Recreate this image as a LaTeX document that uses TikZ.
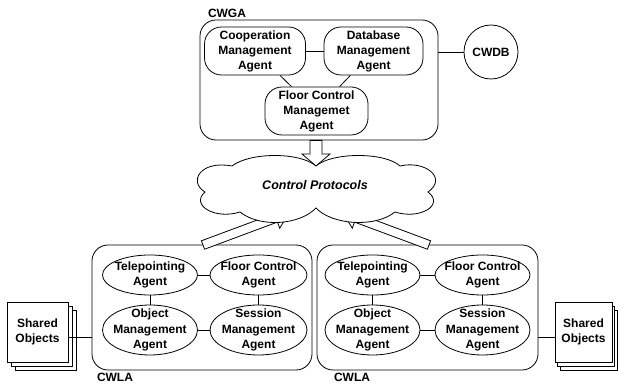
\documentclass[tikz,border=0pt]{standalone}
\usepackage{fontspec}
\setmainfont{Liberation Sans}
\usetikzlibrary{calc,shapes.geometric}
\tikzset{
 every node/.style={font=\bfseries\fontsize{12}{15}\selectfont},
 ln/.style={line width=0.8pt},
 agentbox/.style={draw, ln, rounded corners=17pt, fill=white, align=center, inner sep=0pt},
 bigbox/.style={draw, ln, rounded corners=16pt, inner sep=0pt},
 agentell/.style={draw, ln, ellipse, inner sep=0pt, fill=white},
 elltext/.style={align=center, font=\bfseries\fontsize{12}{15.5}\selectfont},
 page/.style={draw, ln, fill=white, inner sep=0pt},
 fat/.style={draw, ln, fill=white, line join=miter},
 cloudline/.style={draw, ln, fill=white},
}
\newcommand{\fatarrow}[5]{%
 \coordinate (fah) at ($(#2)!#5pt!(#1)$);
 \draw[fat] ($(#1)!#3pt!90:(#2)$) -- ($(fah)!#3pt!-90:(#1)$) -- ($(fah)!#4pt!-90:(#1)$) -- (#2) -- ($(fah)!#4pt!90:(#1)$) -- ($(fah)!#3pt!90:(#1)$) -- ($(#1)!#3pt!-90:(#2)$) -- cycle;}
\begin{document}
\begin{tikzpicture}[x=1pt,y=-1pt]
\useasboundingbox (0,0) rectangle (619,387);

% ---------- CWGA ----------
\node[bigbox, minimum width=238pt, minimum height=120pt] (cwga) at (319,80) {};
\node (cwgal) at (227,13) {CWGA};
\node[agentbox, minimum width=101pt, minimum height=48pt] (coop) at (255,51) {Cooperation\\Management\\Agent};
\node[agentbox, minimum width=99pt, minimum height=48pt] (db) at (373.5,51) {Database\\Management\\Agent};
\node[agentbox, minimum width=103pt, minimum height=48pt] (fcm) at (316.5,111) {Floor Control\\Managemet\\Agent};
\node[draw, ln, circle, minimum size=54pt, inner sep=0pt] (cwdb) at (491,52) {CWDB};
\draw[ln] (coop) -- (db);
\draw[ln] (coop) -- (fcm);
\draw[ln] (db) -- (fcm);
\draw[ln] (cwdb.west -| cwga.east) -- (cwdb.west);

% ---------- CWLA boxes ----------
\node[bigbox, minimum width=220pt, minimum height=125pt] (cwlaL) at (202,307.5) {};
\node[bigbox, minimum width=221pt, minimum height=125pt] (cwlaR) at (427.5,307.5) {};
\node (cwlaLl) at (115,377) {CWLA};
\node (cwlaRl) at (352,377) {CWLA};

\node[agentell, minimum width=95pt, minimum height=40pt, label={[elltext]center:{Telepointing\\Agent}}] (telL) at (150,275) {};
\node[agentell, minimum width=97pt, minimum height=40pt, label={[elltext]center:{Floor Control\\Agent}}] (fcL) at (258.5,275) {};
\node[agentell, minimum width=95pt, minimum height=50pt, label={[elltext]center:{Object\\Management\\Agent}}] (omL) at (150,330) {};
\node[agentell, minimum width=97pt, minimum height=50pt, label={[elltext]center:{Session\\Management\\Agent}}] (smL) at (258.5,330) {};
\draw[ln] (telL) -- (fcL);
\draw[ln] (omL) -- (smL);
\draw[ln] (telL) -- (omL);
\draw[ln] (fcL) -- (smL);

\node[agentell, minimum width=95pt, minimum height=40pt, label={[elltext]center:{Telepointing\\Agent}}] (telR) at (372.5,275) {};
\node[agentell, minimum width=95pt, minimum height=40pt, label={[elltext]center:{Floor Control\\Agent}}] (fcR) at (482.5,275) {};
\node[agentell, minimum width=95pt, minimum height=50pt, label={[elltext]center:{Object\\Management\\Agent}}] (omR) at (372.5,330) {};
\node[agentell, minimum width=95pt, minimum height=50pt, label={[elltext]center:{Session\\Management\\Agent}}] (smR) at (482.5,330) {};
\draw[ln] (telR) -- (fcR);
\draw[ln] (omR) -- (smR);
\draw[ln] (telR) -- (omR);
\draw[ln] (fcR) -- (smR);

% ---------- Shared objects ----------
\node[page, minimum width=61pt, minimum height=60pt] (soL3) at (45.5,340) {};
\node[page, minimum width=61pt, minimum height=60pt] (soL2) at (41.5,336) {};
\node[page, minimum width=61pt, minimum height=60pt, align=center] (soL) at (37.5,332) {Shared\\Objects};
\draw[ln] ($(soL.east)+(0,5)$) -- ($(soL.east -| cwlaL.west)+(0,5)$);

\node[page, minimum width=57pt, minimum height=60pt] (soR3) at (588.5,340) {};
\node[page, minimum width=57pt, minimum height=60pt] (soR2) at (586,336) {};
\node[page, minimum width=57pt, minimum height=60pt, align=center] (soR) at (583.5,332) {Shared\\Objects};
\draw[ln] ($(soR.west)+(0,5)$) -- ($(soR.west -| cwlaR.east)+(0,5)$);

% ---------- fat arrows ----------
\coordinate (a1s) at (cwga.south -| 316,0);
\coordinate (a1t) at (316,166);
\fatarrow{a1s}{a1t}{6}{14}{12}
\coordinate (a2s) at (203,245);
\coordinate (a2t) at (289,213);
\fatarrow{a2s}{a2t}{4.5}{11}{14}
\coordinate (a3s) at (429,245);
\coordinate (a3t) at (343,213);
\fatarrow{a3s}{a3t}{4.5}{11}{14}

% ---------- cloud ----------
\path[cloudline] (316,166)
 .. controls (300,152) and (250,152) .. (232,166)
 .. controls (200,160) and (188,182) .. (205,192)
 .. controls (190,205) and (215,220) .. (240,212)
 .. controls (260,228) and (300,225) .. (316,208)
 .. controls (332,225) and (375,228) .. (395,212)
 .. controls (420,220) and (445,205) .. (428,192)
 .. controls (448,178) and (425,160) .. (400,166)
 .. controls (385,152) and (332,152) .. (316,166) -- cycle;
\node[font=\bfseries\itshape\fontsize{12.5}{15}\selectfont] (cp) at (315,185) {Control Protocols};
\end{tikzpicture}
\end{document}
